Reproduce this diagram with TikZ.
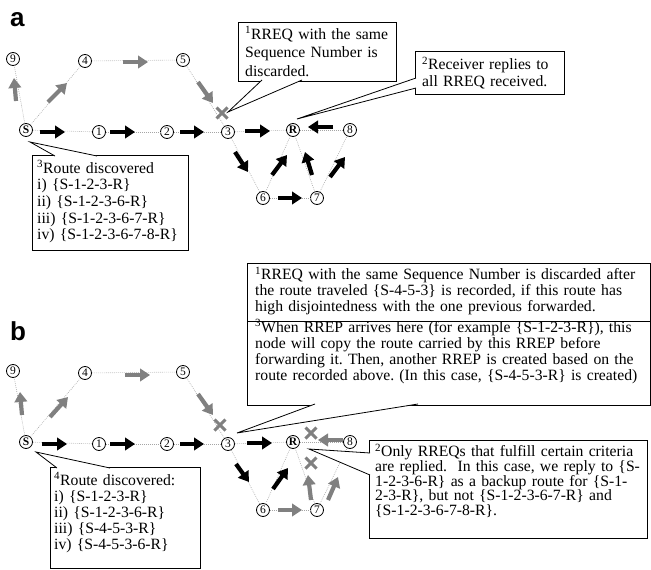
\documentclass[tikz,border=0pt]{standalone}
\usepackage{fontspec}
\setmainfont{Liberation Serif}
\newfontfamily\labfont{Liberation Sans}
\usetikzlibrary{arrows.meta,calc}
\definecolor{arrgray}{RGB}{128,128,128}
\definecolor{dotgray}{RGB}{165,165,165}
\frenchspacing
\newcommand\network{%
  \node[nd] (S)  at (26,130) {\textbf{S}};
  \node[nd] (n1) at (99,132) {1};
  \node[nd] (n2) at (167,132) {2};
  \node[nd] (n3) at (228,132) {3};
  \node[nd] (R)  at (293,130) {\textbf{R}};
  \node[nd] (n8) at (350,130) {8};
  \node[nd] (n6) at (263,198) {6};
  \node[nd] (n7) at (317,198) {7};
  \node[nd] (n9) at (13,59) {9};
  \node[nd] (n4) at (85,61) {4};
  \node[nd] (n5) at (183,60) {5};
  \draw[conn] (S) -- (n9);
  \draw[conn] (S) -- (n4);
  \draw[conn] (n4) -- (n5);
  \draw[conn] (n5) -- (n3);
  \draw[conn] (S) -- (n1);
  \draw[conn] (n1) -- (n2);
  \draw[conn] (n2) -- (n3);
  \draw[conn] (n3) -- (R);
  \draw[conn] (R) -- (n8);
  \draw[conn] (n3) -- (n6);
  \draw[conn] (n6) -- (R);
  \draw[conn] (n6) -- (n7);
  \draw[conn] (n7) -- (R);
  \draw[conn] (n7) -- (n8);
}
\newcommand\xmk[1]{\draw[xmark] (#1) ++(-5.5,-5.5) -- ++(11,11) ++(0,-11) -- ++(-11,11);}
\newcommand\pointer[3]{\fill[white] (#1) -- (#3) -- (#2) -- cycle;
  \draw[line width=0.8pt,line join=miter] (#1) -- (#3) -- (#2);}
\begin{document}
\begin{tikzpicture}[x=1pt,y=-1pt,
  nd/.style={circle,draw,line width=0.8pt,minimum size=13pt,inner sep=0pt,
    font=\fontsize{11.5}{12}\selectfont,fill=white},
  conn/.style={draw=dotgray,line width=0.6pt,dash pattern=on 0.8pt off 1.2pt},
  blk/.style={line width=4.2pt,-{Triangle[length=10pt,width=12.5pt]}},
  gry/.style={blk,draw=arrgray,color=arrgray},
  xmark/.style={draw=arrgray,line width=3pt},
  box/.style={draw,line width=0.8pt,fill=white,inner sep=0pt,anchor=north west},
  txt/.style={anchor=base west,inner sep=0pt,text width=600pt,align=left},
  lab/.style={anchor=base west,inner sep=0pt,font=\labfont\bfseries\fontsize{26}{26}\selectfont},
]
\useasboundingbox (0,0) rectangle (651,570);

% ---------------- panel a ----------------
\node[lab] (la) at (10,26) {a};
\network
\draw[gry] (16,101) -- (14,78);
\draw[gry] (48,102) -- (67,83);
\draw[gry] (123,62) -- (148,62);
\draw[gry] (198,82) -- (213,103);
\draw[blk] (40,132) -- (65,132);
\draw[blk] (110,132) -- (135,132);
\draw[blk] (180,132) -- (204,132);
\draw[blk] (245,131) -- (270,131);
\draw[blk] (333,127) -- (308,127);
\draw[blk] (235,152) -- (248,172);
\draw[blk] (272,175) -- (287,155);
\draw[blk] (312,175) -- (305,152);
\draw[blk] (330,177) -- (345,157);
\draw[blk] (278,198) -- (302,198);
\xmk{222,113}

% callout a-1
\node[box,minimum width=158pt,minimum height=59pt] (ca1) at (238,22) {};
\pointer{262,80}{302,80}{228,112}
\node[txt,font=\fontsize{15.7}{18.5}\selectfont] (ta1) at (245,39)
  {\textsuperscript{1}RREQ with the same\\Sequence Number is\\discarded.};
% callout a-2
\node[box,minimum width=149pt,minimum height=43pt] (ca2) at (415,51) {};
\pointer{416,78}{416,88}{297,119}
\node[txt,font=\fontsize{15.7}{16.5}\selectfont] (ta2) at (422,69.5)
  {\textsuperscript{2}Receiver replies to\\all RREQ received.};
% callout a-3
\node[box,minimum width=156pt,minimum height=95pt] (ca3) at (32,155) {};
\pointer{55,156}{97,156}{30,142}
\node[txt,font=\fontsize{15.7}{16.7}\selectfont] (ta3) at (37,173)
  {\textsuperscript{3}Route discovered\\i) \{S-1-2-3-R\}\\ii) \{S-1-2-3-6-R\}\\iii) \{S-1-2-3-6-7-R\}\\iv) \{S-1-2-3-6-7-8-R\}};

% ---------------- panel b ----------------
\node[lab] (lb) at (10,340) {b};
\begin{scope}[yshift=-312pt,name prefix=b-]
\network
\draw[gry] (22,103) -- (20,80);
\draw[gry] (50,105) -- (68,85);
\draw[gry] (125,63) -- (150,63);
\draw[gry] (198,82) -- (213,103);
\draw[blk] (42,132) -- (67,132);
\draw[blk] (110,132) -- (135,132);
\draw[blk] (180,132) -- (204,132);
\draw[blk] (247,131) -- (272,131);
\draw[gry] (343,128) -- (318,128);
\draw[blk] (236,152) -- (249,170);
\draw[blk] (273,177) -- (288,156);
\draw[gry] (311,188) -- (308,163);
\draw[gry] (328,188) -- (338,165);
\draw[gry] (278,198) -- (302,198);
\xmk{220,113}
\xmk{311,121}
\xmk{311,151}
\end{scope}

% big callout b
\node[box,minimum width=403pt,minimum height=142pt] (cb1) at (247,263) {};
\draw[line width=0.8pt] (cb1.west |- 0,321) -- (cb1.east |- 0,321);
\pointer{315,404}{418,404}{237,433}
\node[txt,font=\fontsize{15.7}{16}\selectfont] (tb1) at (255,279.5)
  {\textsuperscript{1}RREQ with the same Sequence Number is discarded after\\the route traveled \{S-4-5-3\} is recorded, if this route has\\high disjointedness with the one previous forwarded.};
\node[txt,font=\fontsize{15.7}{16}\selectfont] (tb3) at (255,332)
  {\textsuperscript{3}When RREP arrives here (for example \{S-1-2-3-R\}), this\\node will copy the route carried by this RREP before\\forwarding it. Then, another RREP is created based on the\\route recorded above. (In this case, \{S-4-5-3-R\} is created)};
% right callout b
\node[box,minimum width=278pt,minimum height=98pt] (cb2) at (369,440) {};
\pointer{370,453}{370,475}{309,449}
\node[txt,font=\fontsize{15.7}{14.75}\selectfont] (tb2) at (375,456.5)
  {\textsuperscript{2}Only RREQs that fulfill certain criteria\\are replied.\ \ In this case, we reply to \{S-\\1-2-3-6-R\} as a backup route for \{S-1-\\2-3-R\}, but not \{S-1-2-3-6-7-R\} and\\\{S-1-2-3-6-7-8-R\}.};
% route callout b
\node[box,minimum width=150pt,minimum height=101pt] (cb4) at (50,467) {};
\pointer{57,468}{110,468}{36,452}
\node[txt,font=\fontsize{15.7}{16}\selectfont] (tb4) at (54,485)
  {\textsuperscript{4}Route discovered:\\i) \{S-1-2-3-R\}\\ii) \{S-1-2-3-6-R\}\\iii) \{S-4-5-3-R\}\\iv) \{S-4-5-3-6-R\}};
\end{tikzpicture}
\end{document}
